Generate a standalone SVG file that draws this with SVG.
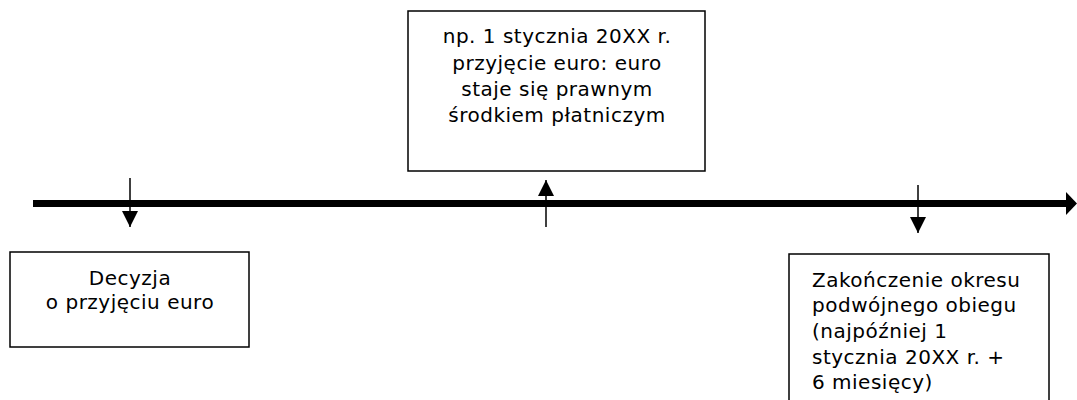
<svg xmlns="http://www.w3.org/2000/svg" width="1077" height="400" viewBox="0 0 1077 400">
<style>
.box{fill:#fff;stroke:#000;stroke-width:1.5}
.t{font-family:"DejaVu Sans",Verdana,sans-serif;font-size:20px;letter-spacing:0.5px;fill:#000}
.c{text-anchor:middle}
.ln{stroke:#000;stroke-width:1.5;fill:none}
</style>
<defs>
<marker id="ah" viewBox="0 0 16 16" refX="16" refY="8" markerWidth="16" markerHeight="16" markerUnits="userSpaceOnUse" orient="auto">
<path d="M0,0 L16,8 L0,16 Z" fill="#000"/>
</marker>
</defs>
<g id="connectors">
<line x1="33" y1="203.5" x2="1066" y2="203.5" stroke="#000" stroke-width="7"/>
<path d="M1066,192 L1077,203.5 L1066,215 Z" fill="#000"/>
<line class="ln" x1="130" y1="178" x2="130" y2="227" marker-end="url(#ah)"/>
<line class="ln" x1="546" y1="227" x2="546" y2="180" marker-end="url(#ah)"/>
<line class="ln" x1="918" y1="185" x2="918" y2="233" marker-end="url(#ah)"/>
</g>
<g id="node-top">
<rect class="box" x="408" y="11" width="297" height="160"/>
<text class="t c" x="557" y="43">np. 1 stycznia 20XX r.</text>
<text class="t c" x="557" y="70">przyjęcie euro: euro</text>
<text class="t c" x="557" y="96">staje się prawnym</text>
<text class="t c" x="557" y="122">środkiem płatniczym</text>
</g>
<g id="node-left">
<rect class="box" x="10" y="252" width="239" height="95"/>
<text class="t c" x="130" y="285">Decyzja</text>
<text class="t c" x="130" y="309">o przyjęciu euro</text>
</g>
<g id="node-right">
<rect class="box" x="789" y="254" width="260" height="160"/>
<text class="t" x="812" y="287">Zakończenie okresu</text>
<text class="t" x="812" y="312">podwójnego obiegu</text>
<text class="t" x="812" y="338">(najpóźniej 1</text>
<text class="t" x="812" y="364">stycznia 20XX r. +</text>
<text class="t" x="812" y="389">6 miesięcy)</text>
</g>
</svg>
